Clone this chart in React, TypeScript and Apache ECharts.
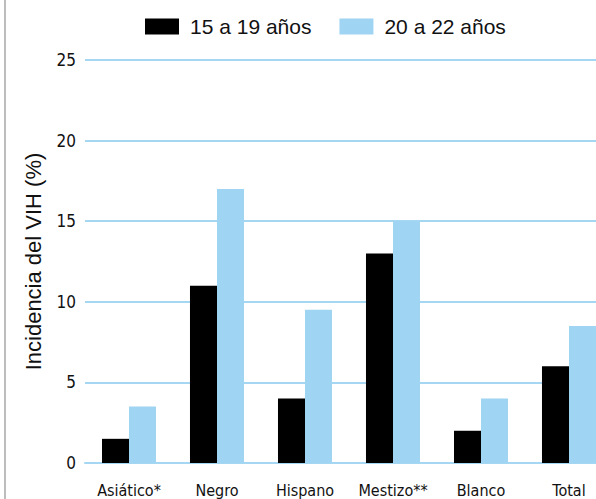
import React, { useEffect, useRef } from "react";
import * as echarts from "echarts";

const categories = ["Asiático*", "Negro", "Hispano", "Mestizo**", "Blanco", "Total"];
const serie15a19 = [1.5, 11, 4, 13, 2, 6];
const serie20a22 = [3.5, 17, 9.5, 15, 4, 8.5];
const seriesNames = ["15 a 19 años", "20 a 22 años"];
const yTicks = { min: 0, max: 25, interval: 5 };

const narrow = "'Liberation Sans Narrow','Arial Narrow','DejaVu Sans Condensed','Roboto Condensed','Liberation Sans',Arial,sans-serif";
const sans = "'Liberation Sans',Arial,Helvetica,sans-serif";

export default function App() {
  const ref = useRef<HTMLDivElement>(null);
  useEffect(() => {
    if (!ref.current) return;
    const chart = echarts.init(ref.current, undefined, { renderer: "svg" });
    chart.setOption({
      animation: false,
      backgroundColor: "#ffffff",
      graphic: [
        {
          type: "rect",
          left: 4,
          top: 0,
          shape: { x: 0, y: 0, width: 2, height: 499 },
          style: { fill: "#bdbdbd" },
        },
      ],
      legend: {
        data: seriesNames,
        left: 145,
        top: 16,
        padding: 0,
        itemWidth: 34,
        itemHeight: 16,
        itemGap: 28,
        icon: "rect",
        textStyle: { fontFamily: sans, fontSize: 21, color: "#111", padding: [0, 0, 0, 6] },
      },
      grid: { left: 85, top: 60, width: 528, height: 403, containLabel: false },
      xAxis: {
        type: "category",
        data: categories,
        axisLine: { show: true, lineStyle: { color: "#a6d7f2", width: 2 } },
        axisTick: { show: false },
        axisLabel: { fontFamily: narrow, fontSize: 16, color: "#111", margin: 19, interval: 0 },
      },
      yAxis: {
        type: "value",
        min: yTicks.min,
        max: yTicks.max,
        interval: yTicks.interval,
        name: "Incidencia del VIH (%)",
        nameLocation: "middle",
        nameGap: 41,
        nameRotate: 90,
        nameTextStyle: { fontFamily: sans, fontSize: 22, color: "#111" },
        axisLine: { show: false },
        axisTick: { show: false },
        splitLine: { lineStyle: { color: "#a6d7f2", width: 2 } },
        axisLabel: { fontFamily: narrow, fontSize: 17, color: "#111", margin: 9 },
      },
      series: [
        {
          name: seriesNames[0],
          type: "bar",
          data: serie15a19,
          itemStyle: { color: "#000000" },
          barGap: "0%",
          barCategoryGap: "38.6%",
        },
        {
          name: seriesNames[1],
          type: "bar",
          data: serie20a22,
          itemStyle: { color: "#9fd4f3" },
          barGap: "0%",
          barCategoryGap: "38.6%",
        },
      ],
    });
    return () => chart.dispose();
  }, []);
  return (
    <div style={{ position: "fixed", left: 0, top: 0, width: 596, height: 499, overflow: "hidden", background: "#fff" }}>
      <div ref={ref} style={{ width: 620, height: 499 }} />
    </div>
  );
}
